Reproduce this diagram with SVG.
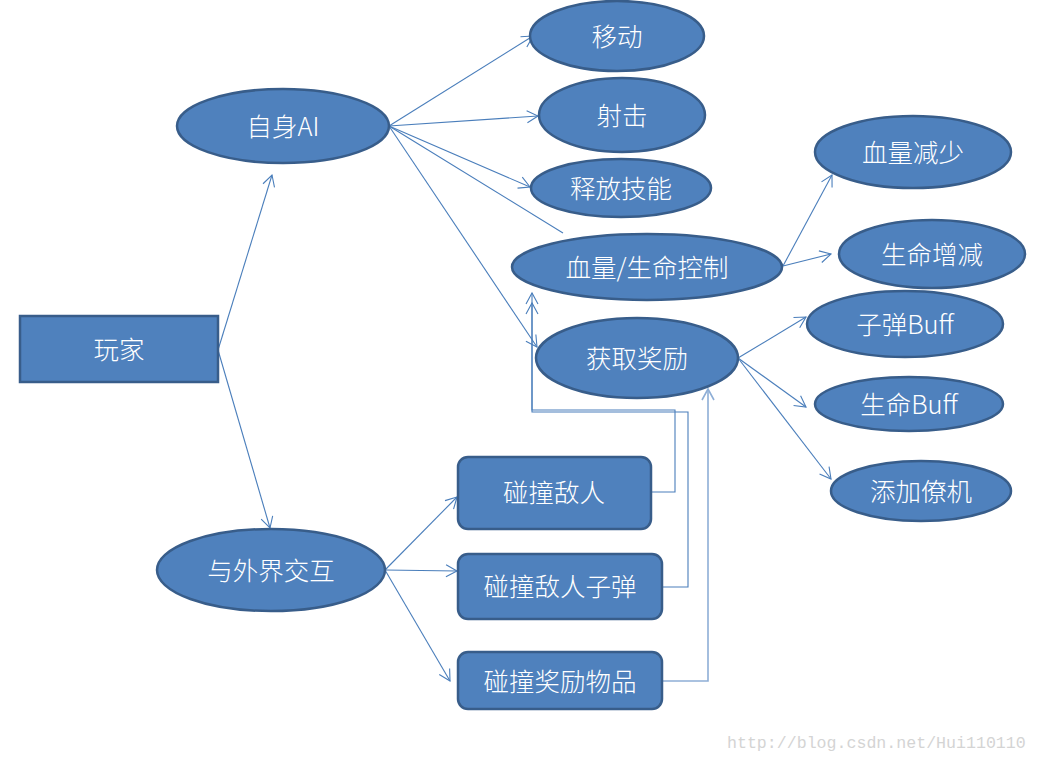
<svg xmlns="http://www.w3.org/2000/svg" width="1038" height="762" viewBox="0 0 1038 762">
<style>
.n{fill:#4f81bd;stroke:#385d8a;stroke-width:2.5}
.t{font-family:"Noto Sans CJK SC","Liberation Sans",sans-serif;font-size:25.5px;font-weight:300;fill:#ffffff;text-anchor:middle;dominant-baseline:central}
.c{fill:none;stroke:#4a7ebb;stroke-width:1.1}
.l{fill:none;stroke:#8eaed6;stroke-width:1.6}
.wm{font-family:"Liberation Mono",monospace;font-size:16.6px;fill:#d4d4d4}
</style>
<defs>
<marker id="a" markerUnits="userSpaceOnUse" markerWidth="14" markerHeight="14" viewBox="-12 -7 14 14" refX="0" refY="0" orient="auto">
<path d="M-11,-6 L0,0 L-11,6" fill="none" stroke="#4a7ebb" stroke-width="1.1"/>
</marker>
<marker id="b" markerUnits="userSpaceOnUse" markerWidth="14" markerHeight="14" viewBox="-12 -7 14 14" refX="0" refY="0" orient="auto">
<path d="M-11,-6 L0,0 L-11,6" fill="none" stroke="#8eaed6" stroke-width="1.6"/>
</marker>
</defs>
<rect width="1038" height="762" fill="#ffffff"/>
<g id="connectors">
<line class="c" x1="218" y1="350" x2="272" y2="175" marker-end="url(#a)"/>
<line class="c" x1="218" y1="350" x2="270" y2="528" marker-end="url(#a)"/>
<line class="c" x1="389" y1="126" x2="533" y2="36" marker-end="url(#a)"/>
<line class="c" x1="389" y1="126" x2="538" y2="116" marker-end="url(#a)"/>
<line class="c" x1="389" y1="126" x2="530" y2="187" marker-end="url(#a)"/>
<line class="c" x1="389" y1="126" x2="563" y2="233"/>
<line class="c" x1="389" y1="126" x2="537" y2="347" marker-end="url(#a)"/>
<line class="c" x1="783" y1="266" x2="832" y2="175" marker-end="url(#a)"/>
<line class="c" x1="783" y1="266" x2="831" y2="254" marker-end="url(#a)"/>
<line class="c" x1="738" y1="358" x2="806" y2="317" marker-end="url(#a)"/>
<line class="c" x1="738" y1="358" x2="806" y2="407" marker-end="url(#a)"/>
<line class="c" x1="738" y1="358" x2="831" y2="479" marker-end="url(#a)"/>
<line class="c" x1="385" y1="570" x2="457" y2="497" marker-end="url(#a)"/>
<line class="c" x1="385" y1="570" x2="457" y2="571" marker-end="url(#a)"/>
<line class="c" x1="385" y1="570" x2="450" y2="681" marker-end="url(#a)"/>
<polyline class="c" points="651,492 675,492 675,410 532,410 532,293" marker-end="url(#a)"/>
<polyline class="c" points="662,587 688,587 688,412 532,412 532,303" marker-end="url(#a)"/>
<polyline class="l" points="662,681 708,681 708,389" marker-end="url(#b)"/>
</g>
<g id="n-player"><rect class="n" x="20" y="316" width="198" height="66"/><text class="t" x="119" y="347">玩家</text></g>
<g id="n-selfai"><ellipse class="n" cx="283" cy="126" rx="106" ry="37"/><text class="t" x="283" y="124">自身AI</text></g>
<g id="n-interact"><ellipse class="n" cx="271" cy="570" rx="114" ry="41"/><text class="t" x="271" y="568">与外界交互</text></g>
<g id="n-move"><ellipse class="n" cx="617" cy="36" rx="87" ry="35"/><text class="t" x="617" y="34">移动</text></g>
<g id="n-shoot"><ellipse class="n" cx="622" cy="115" rx="83" ry="37"/><text class="t" x="622" y="113">射击</text></g>
<g id="n-skill"><ellipse class="n" cx="621" cy="188" rx="90" ry="29"/><text class="t" x="621" y="186">释放技能</text></g>
<g id="n-hp"><ellipse class="n" cx="647" cy="267" rx="135" ry="33"/><text class="t" x="647" y="265">血量/生命控制</text></g>
<g id="n-reward"><ellipse class="n" cx="637" cy="358" rx="101" ry="40"/><text class="t" x="637" y="356">获取奖励</text></g>
<g id="n-hpdown"><ellipse class="n" cx="913" cy="152" rx="98" ry="36"/><text class="t" x="913" y="150">血量减少</text></g>
<g id="n-life"><ellipse class="n" cx="932" cy="254" rx="93" ry="34"/><text class="t" x="932" y="252">生命增减</text></g>
<g id="n-bulletbuff"><ellipse class="n" cx="905" cy="324" rx="98" ry="33"/><text class="t" x="905" y="322">子弹Buff</text></g>
<g id="n-lifebuff"><ellipse class="n" cx="909" cy="404" rx="94" ry="27"/><text class="t" x="909" y="402">生命Buff</text></g>
<g id="n-wingman"><ellipse class="n" cx="921" cy="491" rx="90" ry="30"/><text class="t" x="921" y="489">添加僚机</text></g>
<g id="n-enemy"><rect class="n" x="458" y="457" width="193" height="72" rx="10"/><text class="t" x="554" y="490">碰撞敌人</text></g>
<g id="n-enemybullet"><rect class="n" x="458" y="554" width="204" height="65" rx="10"/><text class="t" x="560" y="584">碰撞敌人子弹</text></g>
<g id="n-item"><rect class="n" x="458" y="652" width="204" height="57" rx="10"/><text class="t" x="560" y="679">碰撞奖励物品</text></g>
<text class="wm" x="727" y="748">http://blog.csdn.net/Hui110110</text>
</svg>
